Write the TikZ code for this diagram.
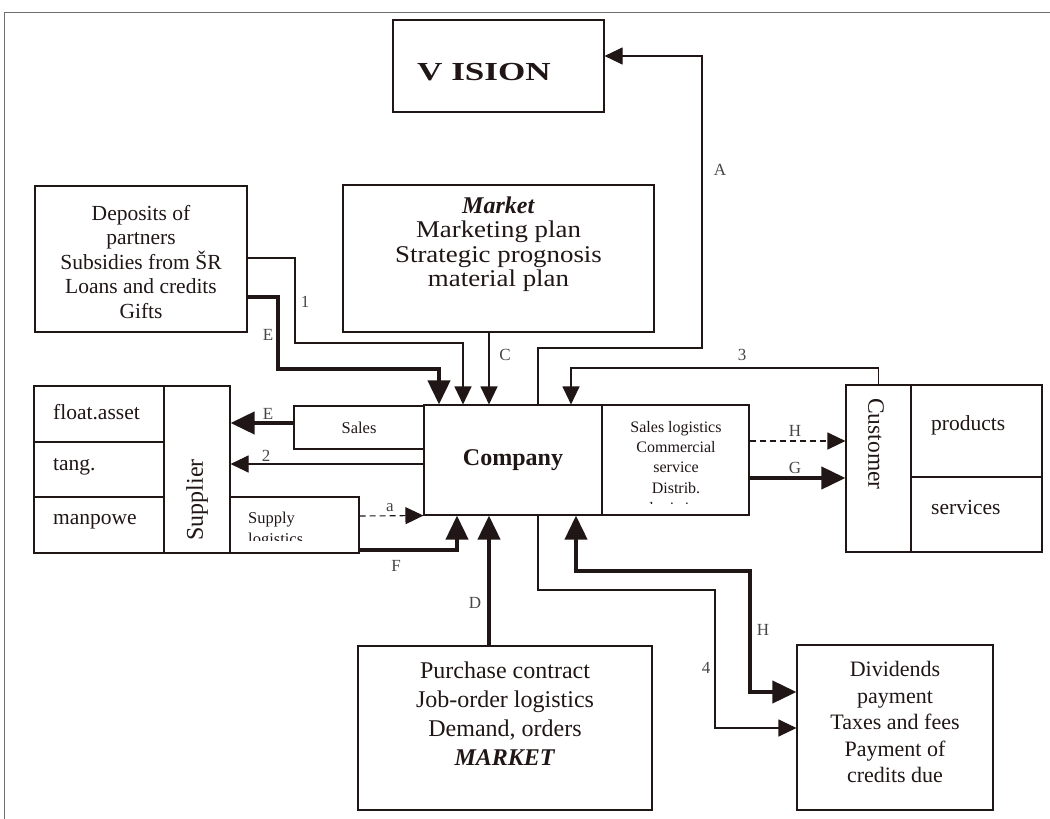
\documentclass[tikz,border=0pt]{standalone}
\usepackage{fontspec}
\setmainfont{Liberation Serif}
\newfontfamily\visionfont[FakeStretch=1.35]{Liberation Serif}
\newfontfamily\widefont[FakeStretch=1.12]{Liberation Serif}
\usetikzlibrary{arrows.meta}
\definecolor{ink}{RGB}{32,22,22}
\definecolor{framegray}{RGB}{110,110,110}
\definecolor{tag}{RGB}{70,70,70}
\newcommand{\setfs}[2]{\fontsize{#1}{#2}\selectfont}
\begin{document}
\begin{tikzpicture}[x=1pt,y=-1pt,
  box/.style={draw=ink, line width=1.1pt, inner sep=0pt, align=center, text=ink},
  txt/.style={inner sep=0pt, align=center, text=ink},
  thinln/.style={draw=ink, line width=1.1pt},
  thickln/.style={draw=ink, line width=4pt},
  thinhead/.style={-{Triangle[length=18pt,width=17pt]}},
  thickhead/.style={-{Triangle[length=24pt,width=22pt]}},
  thinarr/.style={thinln, thinhead},
  thickarr/.style={thickln, thickhead},
  dashline/.style={dash pattern=on 6pt off 4pt},
  lbl/.style={inner sep=0pt, text=tag, font=\setfs{17}{17}}]
\useasboundingbox (0,0) rectangle (1050,819);

% outer frame
\draw[framegray, line width=1pt] (4,819) -- (4,12) -- (1050,12);

% ---- boxes ----
\node[box, minimum width=211pt, minimum height=92pt] (vision) at (498.5,66) {};
\node[txt, font=\visionfont\bfseries\setfs{26}{26}] (visiontext) at (484,72) {V ISION};

\node[box, minimum width=311pt, minimum height=147pt] (market) at (498.5,258.5) {};
\node[txt, font=\setfs{24}{24.5}] (markettext) at (498.5,244)
  {\textbf{\textit{Market}}\\\widefont Marketing plan\\\widefont Strategic prognosis\\\widefont material plan};

\node[box, minimum width=212pt, minimum height=146pt] (dep) at (141,259) {};
\begin{scope}
  \clip (35,186) rectangle (247,322);
  \node[txt, font=\setfs{21.5}{24.5}] (deptext) at (141,262)
    {Deposits of\\partners\\Subsidies from ŠR\\Loans and credits\\Gifts};
\end{scope}

\node[box, minimum width=178pt, minimum height=110pt] (company) at (513,460)
  {\bfseries\setfs{24}{24}Company};
\node[box, minimum width=147pt, minimum height=110pt] (slog) at (675.5,460) {};
\begin{scope}
  \clip (602,405) rectangle (749,503);
  \node[txt, font=\setfs{16}{20.3}] (slogtext) at (676,469)
    {Sales logistics\\Commercial\\service\\Distrib.\\logistics};
\end{scope}

\node[box, minimum width=130pt, minimum height=43pt] (sales) at (359,427.5)
  {\setfs{16.5}{16.5}Sales};

\node[box, minimum width=130pt, minimum height=56pt] (float) at (99,414) {};
\node[box, minimum width=130pt, minimum height=55pt] (tang) at (99,469.5) {};
\node[box, minimum width=130pt, minimum height=56pt] (manp) at (99,525) {};
\node[txt, anchor=west, font=\setfs{21.5}{21.5}] (floattext) at (53,412) {float.asset};
\node[txt, anchor=west, font=\setfs{21.5}{21.5}] (tangtext) at (53,467) {tang.};
\node[txt, anchor=west, font=\setfs{21.5}{21.5}] (manptext) at (53,522) {manpowe};
\node[box, minimum width=66pt, minimum height=167pt] (supcol) at (197,469.5) {};
\node[txt, rotate=90, font=\setfs{24}{24}] (suptext) at (197,500) {Supplier};

\node[box, minimum width=129pt, minimum height=56pt] (supply) at (294.5,525) {};
\begin{scope}
  \clip (230,497) rectangle (359,540);
  \node[txt, anchor=north west, align=left, font=\setfs{16.5}{21}] (supplytext) at (248,512)
    {Supply\\logistics};
\end{scope}

\node[box, minimum width=65pt, minimum height=167pt] (cust) at (878.5,468.5) {};
\node[txt, rotate=-90, font=\setfs{23.5}{23.5}] (custtext) at (876,444) {Customer};
\node[box, minimum width=131pt, minimum height=92pt] (prod) at (976.5,431) {};
\node[box, minimum width=131pt, minimum height=75pt] (serv) at (976.5,514.5) {};
\node[txt, anchor=west, font=\setfs{21.5}{21.5}] (prodtext) at (931,425) {products};
\node[txt, anchor=west, font=\setfs{21.5}{21.5}] (servtext) at (931,507) {services};

\node[box, minimum width=294pt, minimum height=164pt] (purchase) at (505,728) {};
\node[txt, font=\setfs{24}{29}] (purchasetext) at (505,714)
  {Purchase contract\\Job-order logistics\\Demand, orders\\\textbf{\textit{MARKET}}};

\node[box, minimum width=196pt, minimum height=165pt] (div) at (895,727.5) {};
\node[txt, font=\setfs{22}{26.5}] (divtext) at (895,722)
  {Dividends\\payment\\Taxes and fees\\Payment of\\credits due};

% ---- connectors into the company ----
\draw[thinarr] (company.north -| 538,0) -- (538,348) -- (702,348) -- (702,56)
  -- (vision.east |- 0,56);
\draw[thinarr] (market.south -| 489,0) -- (company.north -| 489,0);
\draw[thinarr] (dep.east |- 0,258) -- (295,258) -- (295,343) -- (463,343)
  -- (company.north -| 463,0);
\draw[thickarr] (dep.east |- 0,297) -- (278,297) -- (278,369) -- (439,369)
  -- (company.north -| 439,0);
\draw[thinarr] (cust.north) -- (cust.north |- 0,368) -- (571,368)
  -- (company.north -| 571,0);

% ---- supplier side ----
\draw[thickarr] (sales.west |- 0,423) -- (supcol.east |- 0,423);
\draw[thinarr] (company.west |- 0,464) -- (supcol.east |- 0,464);
\draw[thinarr, dashline] (supply.east |- 0,516) -- (company.south west);
\draw[thickarr] (supply.east |- 0,550) -- (457,550) -- (company.south -| 457,0);

% ---- market below ----
\draw[thickarr] (purchase.north -| 489,0) -- (company.south -| 489,0);

% ---- payments ----
\draw[thinarr] (company.south -| 538,0) -- (538,590) -- (715,590) -- (715,728)
  -- (div.west |- 0,728);
\draw[thickln, {Triangle[length=24pt,width=22pt]}-{Triangle[length=24pt,width=22pt]}]
  (company.south -| 576,0) -- (576,571) -- (750,571) -- (750,692) -- (div.west |- 0,692);

% ---- customer side ----
\draw[thinarr, dashline] (slog.east |- 0,441) -- (cust.west |- 0,441);
\draw[thickarr] (slog.east |- 0,478) -- (cust.west |- 0,478);

% ---- flow labels ----
\node[lbl] (lA) at (720,170) {A};
\node[lbl] (lC) at (505,355) {C};
\node[lbl] (l1) at (305,302) {1};
\node[lbl] (lE1) at (268,335) {E};
\node[lbl] (l3) at (742,355) {3};
\node[lbl] (lE2) at (268,414) {E};
\node[lbl] (l2) at (266,456) {2};
\node[lbl] (la) at (390,508) {a};
\node[lbl] (lF) at (396,566) {F};
\node[lbl] (lD) at (475,603) {D};
\node[lbl] (l4) at (706,668) {4};
\node[lbl] (lH1) at (763,630) {H};
\node[lbl] (lH2) at (795,431) {H};
\node[lbl] (lG) at (795,468) {G};
\end{tikzpicture}
\end{document}
